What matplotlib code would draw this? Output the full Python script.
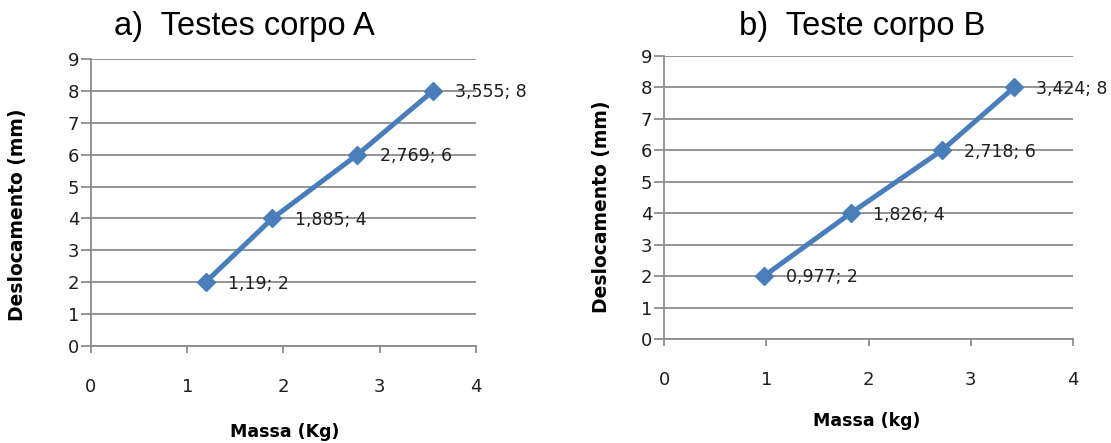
import matplotlib
matplotlib.use("Agg")
import matplotlib.pyplot as plt

# data
massa_a = [1.19, 1.885, 2.769, 3.555]
desloc_a = [2, 4, 6, 8]
rotulos_a = ["1,19; 2", "1,885; 4", "2,769; 6", "3,555; 8"]

massa_b = [0.977, 1.826, 2.718, 3.424]
desloc_b = [2, 4, 6, 8]
rotulos_b = ["0,977; 2", "1,826; 4", "2,718; 6", "3,424; 8"]

x_ticks = [0, 1, 2, 3, 4]
y_ticks = [0, 1, 2, 3, 4, 5, 6, 7, 8, 9]

azul = "#4A7EBB"
cinza = "#8C8C8C"
texto = "#1E1E1E"


def desenha(ax, x, y, rotulos, xlabel, xl_pos, yl_pos):
    ax.plot(x, y, color=azul, lw=3.6, marker="D", ms=9, zorder=3)
    for xi, yi, r in zip(x, y, rotulos):
        ax.annotate(r, (xi, yi), xytext=(16, -1), textcoords="offset points",
                    ha="left", va="center", fontsize=12.5, color=texto, zorder=4)

    ax.set_xlim(0, 4)
    ax.set_ylim(0, 9)
    ax.set_xticks(x_ticks)
    ax.set_yticks(y_ticks)
    ax.set_xticklabels([str(t) for t in x_ticks])
    ax.set_yticklabels([str(t) for t in y_ticks])

    ax.grid(axis="y", color=cinza, lw=1.3, zorder=1)
    ax.grid(axis="x", visible=False)
    ax.set_axisbelow(True)
    for s in ["top", "right"]:
        ax.spines[s].set_visible(False)
    for s in ["left", "bottom"]:
        ax.spines[s].set_color(cinza)
        ax.spines[s].set_linewidth(1.3)

    ax.tick_params(axis="x", direction="out", length=5, width=1.3, color=cinza,
                   pad=18, labelsize=13, labelcolor=texto)
    ax.tick_params(axis="y", direction="out", length=7, width=1.3, color=cinza,
                   pad=1.5, labelsize=13, labelcolor=texto)

    ax.set_xlabel(xlabel, fontsize=12.5, fontweight="bold", va="center")
    ax.xaxis.set_label_coords(*xl_pos)
    ax.set_ylabel("Deslocamento (mm)", fontsize=13.5, fontweight="bold", va="center")
    ax.yaxis.set_label_coords(*yl_pos)


fig = plt.figure(figsize=(11.11, 4.43), dpi=100)

ax1 = fig.add_axes([0.0819, 0.2190, 0.3465, 0.6479])
desenha(ax1, massa_a, desloc_a, rotulos_a, "Massa (Kg)", (0.504, -0.30), (-0.19, 0.456))

ax2 = fig.add_axes([0.5977, 0.2348, 0.3681, 0.6388])
desenha(ax2, massa_b, desloc_b, rotulos_b, "Massa (kg)", (0.496, -0.29), (-0.154, 0.466))

fig.text(244 / 1111, 1 - 27 / 443, "a)  Testes corpo A", fontsize=23.5,
         family="Liberation Sans", ha="center", va="center")
fig.text(862 / 1111, 1 - 27 / 443, "b)  Teste corpo B", fontsize=23.5,
         family="Liberation Sans", ha="center", va="center")

fig.savefig("out.png", dpi=100)
